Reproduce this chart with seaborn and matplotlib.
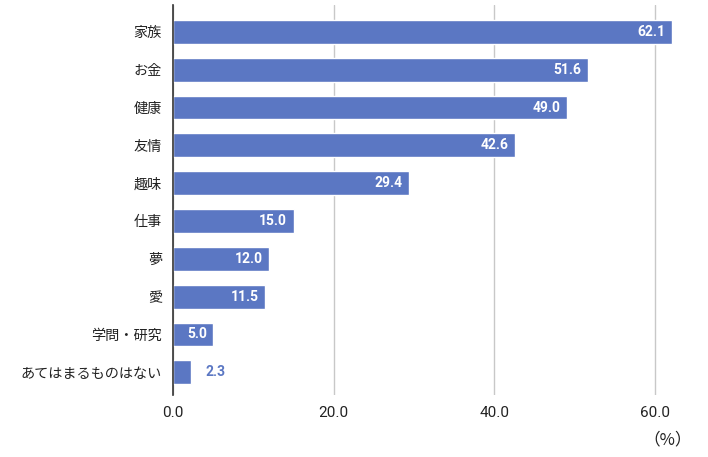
import matplotlib
matplotlib.use("Agg")
import matplotlib.pyplot as plt
import seaborn as sns
import pandas as pd

# データ
categories = ["家族", "お金", "健康", "友情", "趣味", "仕事", "夢", "愛", "学問・研究", "あてはまるものはない"]
values = [62.1, 51.6, 49.0, 42.6, 29.4, 15.0, 12.0, 11.5, 5.0, 2.3]
xticks = [0, 20, 40, 60]

bar_color = "#5b77c3"

sns.set_theme(style="white")
plt.rcParams["font.family"] = ["Noto Sans CJK JP", "DejaVu Sans"]

df = pd.DataFrame({"項目": categories, "割合": values})

fig = plt.figure(figsize=(7.08, 4.57), dpi=100, facecolor="white")
ax = fig.add_axes([173 / 708, 1 - 395 / 457, (700 - 173) / 708, 390 / 457])

sns.barplot(data=df, x="割合", y="項目", orient="h", color=bar_color,
            saturation=1, width=0.63, ax=ax, zorder=3)

ax.set_xlim(0, 65.6)
ax.set_ylim(9.6, -0.71)
ax.set_xticks(xticks)
ax.set_xticklabels([f"{t:.1f}" for t in xticks], family=["Roboto", "DejaVu Sans"])
ax.tick_params(axis="x", length=0, pad=8, labelsize=11, colors="#222222")
ax.tick_params(axis="y", length=0, pad=8, labelsize=10.2, colors="#222222")
ax.xaxis.grid(True, color="#c8c8c8", linewidth=1, zorder=0)
ax.set_xlabel("")
ax.set_ylabel("")

for side in ["top", "right", "bottom"]:
    ax.spines[side].set_visible(False)
ax.spines["left"].set_color("#333333")
ax.spines["left"].set_linewidth(1.2)
ax.spines["left"].set_zorder(4)

# 値ラベル
for i, v in enumerate(values):
    if v > 4:
        ax.text(v - 0.8, i, f"{v:.1f}", ha="right", va="center", color="white",
                fontsize=10, fontweight="bold", family=["Roboto", "DejaVu Sans"], zorder=5)
    else:
        ax.text(v + 1.8, i, f"{v:.1f}", ha="left", va="center", color=bar_color,
                fontsize=10, fontweight="bold", family=["Roboto", "DejaVu Sans"], zorder=5)

fig.text(668 / 708, 1 - 440 / 457, "（%）", ha="center", va="center", fontsize=12, color="#222222")

fig.savefig("out.png", dpi=100, facecolor="white")
